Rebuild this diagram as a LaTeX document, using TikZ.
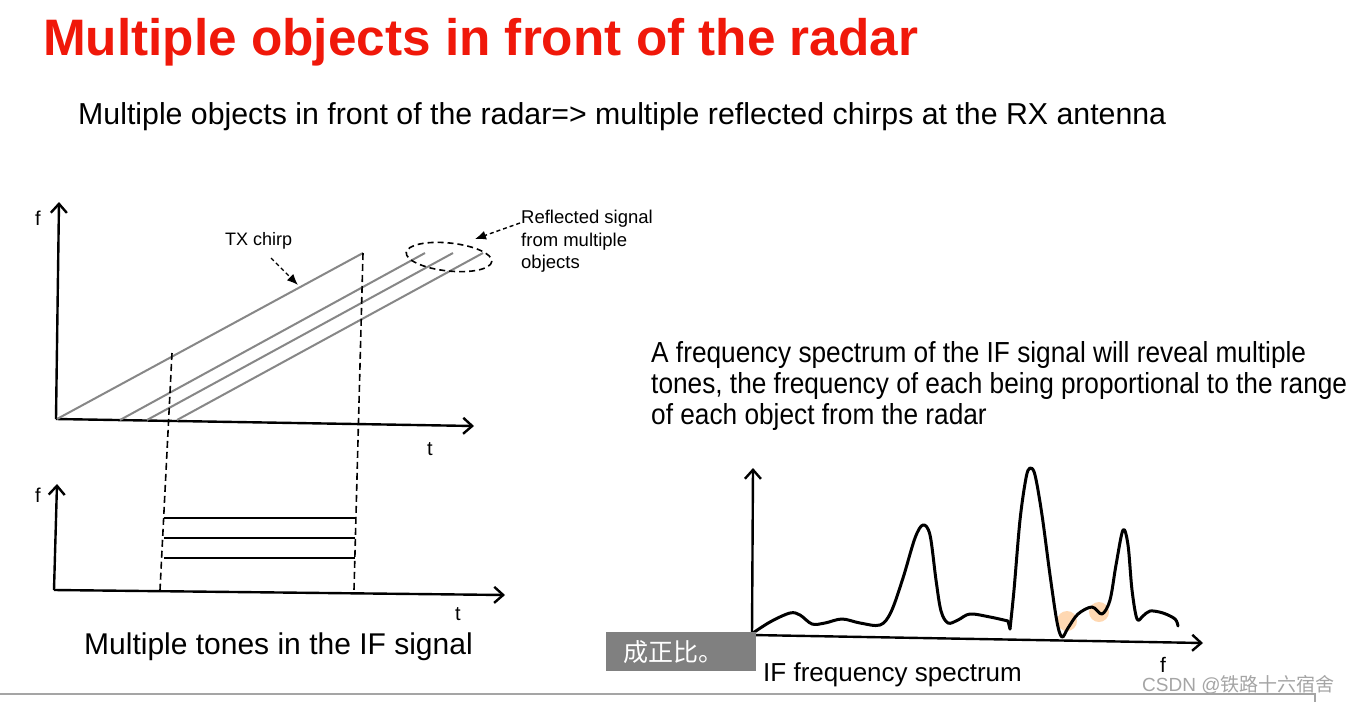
\documentclass[tikz,border=0pt]{standalone}
\usepackage{fontspec}
\setmainfont{Liberation Sans}
\newfontfamily\cjk{Noto Sans CJK SC}
\usetikzlibrary{arrows.meta}
\definecolor{titlered}{RGB}{240,24,10}
\definecolor{chirpgray}{RGB}{135,135,135}
\definecolor{boxgray}{RGB}{128,128,128}
\definecolor{wmgray}{RGB}{165,165,165}
\tikzset{
  txt/.style={inner sep=0pt, anchor=base west},
  axis/.style={line width=2.4pt, -{Straight Barb[length=9pt,width=16pt,line width=2.4pt]}},
  chirp/.style={line width=2pt, chirpgray},
  tone/.style={line width=2.4pt, black},
  guide/.style={line width=1.6pt, dash pattern=on 7pt off 4pt},
  callout/.style={line width=1.4pt, dash pattern=on 4pt off 3pt, -{Latex[length=11pt,width=9pt]}},
  spec/.style={line width=3pt, line join=round, line cap=round},
}
\begin{document}
\begin{tikzpicture}[x=1pt,y=-1pt]
\useasboundingbox[fill=white] (0,0) rectangle (1349,702);

% Title and subtitle
\node[txt, font=\fontsize{51.3}{60}\bfseries\selectfont, text=titlered] (title) at (43,55) {Multiple objects in front of the radar};
\node[txt, font=\fontsize{30.3}{36}\selectfont] (sub) at (78,124) {Multiple objects in front of the radar=> multiple reflected chirps at the RX antenna};

% ---------- top-left chirp graph ----------
\coordinate (o1) at (56,419);
\draw[axis] (o1) -- (59,202);
\draw[axis] (o1) -- (474,426);
\node[txt, font=\fontsize{20}{22}\selectfont] (f1) at (35,225) {f};
\node[txt, font=\fontsize{20}{22}\selectfont] (t1) at (427,455) {t};

\draw[chirp] (57,419) -- (363,253);
\draw[chirp] (120,420) -- (425,253);
\draw[chirp] (147,420) -- (453,253);
\draw[chirp] (177,420) -- (483,253);

% dashed guide lines
\draw[guide] (172,353) -- (160,590);
\draw[guide] (363,253) -- (354,590);

% TX chirp label
\node[txt, font=\fontsize{18}{22}\selectfont] (txl) at (225,245) {TX chirp};
\coordinate (txa) at (271,258);
\coordinate (txb) at (298,285);
\draw[callout] (txa) -- (txb);

% reflected signal ellipse + label
\draw[line width=1.6pt, dash pattern=on 6pt off 4pt] (449,257) ellipse[x radius=43, y radius=14, rotate=-6];
\node[txt, font=\fontsize{18.5}{22.5}\selectfont, align=left, anchor=north west] (refl) at (521,210) {Reflected signal\\from multiple\\objects};
\coordinate (rfa) at (520,223);
\coordinate (rfb) at (475,239);
\draw[callout] (rfa) -- (rfb);

% ---------- bottom-left IF graph ----------
\coordinate (o2) at (54,590);
\draw[axis] (o2) -- (57,484);
\draw[axis] (o2) -- (505,595);
\node[txt, font=\fontsize{20}{22}\selectfont] (f2) at (35,502) {f};
\node[txt, font=\fontsize{20}{22}\selectfont] (t2) at (455,620) {t};
\draw[tone] (164,518) -- (355,518);
\draw[tone] (164,538) -- (355,538);
\draw[tone] (164,558) -- (355,558);
\node[txt, font=\fontsize{30}{36}\selectfont] (ifl) at (84,654) {Multiple tones in the IF signal};

% ---------- right text ----------
\node[txt, font=\fontsize{29}{31}\selectfont] (p1) at (651,362) {\scalebox{0.905}[1]{A frequency spectrum of the IF signal will reveal multiple}};
\node[txt, font=\fontsize{29}{31}\selectfont] (p2) at (651,393) {\scalebox{0.905}[1]{tones, the frequency of each being proportional to the range}};
\node[txt, font=\fontsize{29}{31}\selectfont] (p3) at (651,424) {\scalebox{0.905}[1]{of each object from the radar}};

% ---------- spectrum graph ----------
\coordinate (o3) at (752,635);
\draw[axis] (o3) -- (753,468);
\draw[axis] (o3) -- (1203,643);
\node[txt, font=\fontsize{21}{24}\selectfont] (f3) at (1160,672) {f};
\node[txt, font=\fontsize{26}{30}\selectfont] (ifs) at (763,681) {IF frequency spectrum};

\fill[orange, opacity=0.3] (1067,621) circle[radius=10];
\fill[orange, opacity=0.3] (1099,612) circle[radius=10];

\draw[spec] plot[smooth, tension=0.55] coordinates {
 (750,635) (770,622) (790,613) (800,615) (812,624) (825,623) (842,619) (860,623) (880,625)
 (891,612) (903,578) (915,538) (923,525) (930,535) (936,580) (941,611) (948,623) (958,620)
 (970,614) (990,617) (1008,621)};
\draw[spec] (1008,621) -- (1010,629);
\draw[spec] plot[smooth, tension=0.55] coordinates {
 (1010,629) (1014,590) (1020,520) (1026,478) (1030,468) (1035,475) (1042,515) (1050,575)
 (1057,622) (1062,637) (1068,628) (1078,614) (1092,607) (1102,614) (1110,600) (1116,565)
 (1123,530) (1128,545) (1132,590) (1137,619) (1143,616) (1150,611) (1163,613) (1175,619) (1178,626)};

% ---------- overlay box & watermark ----------
\node[fill=boxgray, minimum width=150pt, minimum height=39pt, inner sep=0pt, anchor=north west] (cap) at (606,632) {};
\node[font=\cjk\fontsize{25}{28}\selectfont, text=white, inner sep=0pt] (capt) at (673,652) {成正比。};
\node[txt, font=\fontsize{19}{22}\selectfont, text=wmgray] (wm) at (1142,691) {CSDN @{\cjk 铁路十六宿舍}};

\draw[wmgray, line width=1.2pt] (0,694) -- (1315,694) -- (1315,702);
\end{tikzpicture}
\end{document}
